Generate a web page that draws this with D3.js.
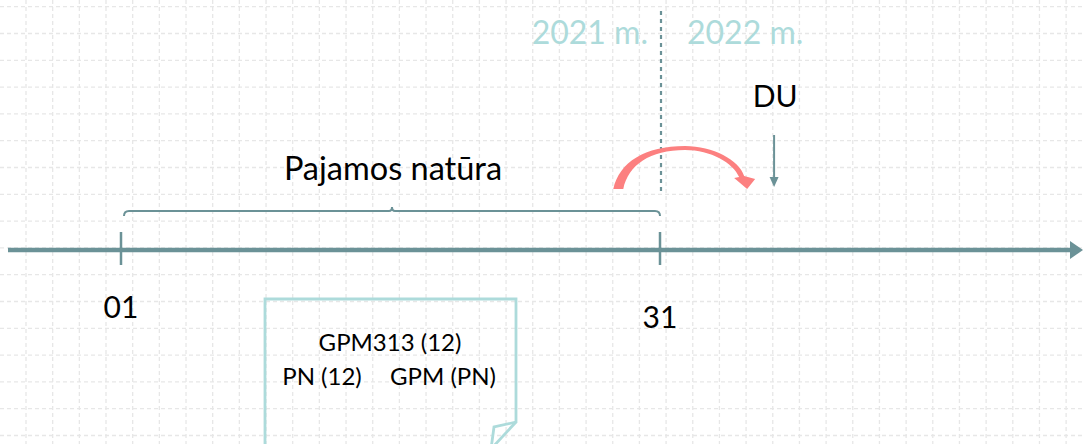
<!DOCTYPE html>
<html><head><meta charset="utf-8">
<script src="https://cdn.jsdelivr.net/npm/d3@7"></script>
<style>html,body{margin:0;padding:0;background:#fff;overflow:hidden}</style>
</head><body><svg id="c" width="1083" height="444"></svg>
<script>
// ---- data ----
const tickValues = [0, 30];            // day positions on the timeline
const tickLabels = ["01", "31"];
const yearLabels = ["2021 m.", "2022 m."];
const yearBoundary = 30;               // end of year
const braceRange = [0, 30];
const braceLabel = "Pajamos natūra";
const eventValue = 36.35;
const eventLabel = "DU";
const carryFrom = 27.4, carryTo = 34.85; // red carry-over arrow
const noteLine1 = ["GPM313 (12)"];
const noteLine2 = ["PN (12)", "GPM (PN)"];

// ---- layout ----
const W = 1083, H = 444, axisY = 250;
const teal = "#6b9297", light = "#addbdb", red = "#fc8080";
const font = "Lato, 'Open Sans', sans-serif";
const svg = d3.select("#c");
const x = d3.scaleLinear().domain([0, 30]).range([121, 660]);

// grid
const grid = svg.append("g");
d3.range(0, 41).forEach(i => {
  const gx = 26 + i * 26.67;
  grid.append("line").attr("x1", gx).attr("x2", gx).attr("y1", 0).attr("y2", H);
});
d3.range(0, 17).forEach(i => {
  const gy = 6.7 + i * 26.8;
  grid.append("line").attr("x1", 0).attr("x2", W).attr("y1", gy).attr("y2", gy);
});
grid.selectAll("line").attr("stroke", "#e7e7e7").attr("stroke-width", 1.3).attr("stroke-dasharray", "4,3");

// year divider
svg.append("line").attr("x1", x(yearBoundary) + 1).attr("x2", x(yearBoundary) + 1)
  .attr("y1", 11).attr("y2", 192).attr("stroke", teal).attr("stroke-width", 2.2)
  .attr("stroke-dasharray", "4,4");

svg.append("text").attr("x", x(yearBoundary) - 12).attr("y", 44).attr("text-anchor", "end")
  .attr("font-family", font).attr("font-size", 32).attr("fill", light).text(yearLabels[0]);
svg.append("text").attr("x", x(yearBoundary) + 27).attr("y", 44).attr("text-anchor", "start")
  .attr("font-family", font).attr("font-size", 32).attr("fill", light).text(yearLabels[1]);

// main axis
svg.append("line").attr("x1", 8).attr("x2", 1072).attr("y1", axisY).attr("y2", axisY)
  .attr("stroke", teal).attr("stroke-width", 4.5);
svg.append("path").attr("d", `M1070,${axisY-9} L1083,${axisY} L1070,${axisY+9} Z`).attr("fill", teal);

// ticks
tickValues.forEach((v, i) => {
  svg.append("line").attr("x1", x(v)).attr("x2", x(v)).attr("y1", axisY - 18).attr("y2", axisY + 15)
    .attr("stroke", teal).attr("stroke-width", 2.5);
  svg.append("text").attr("x", x(v)).attr("y", i === 0 ? 318 : 328).attr("text-anchor", "middle")
    .attr("font-family", font).attr("font-size", 30).attr("fill", "#000").text(tickLabels[i]);
});

// brace
const bx0 = x(braceRange[0]) + 3, bx1 = x(braceRange[1]), bm = (bx0 + bx1) / 2, by = 211;
svg.append("path")
  .attr("d", `M${bx0},${by+5} Q${bx0},${by} ${bx0+5},${by} L${bm-3},${by} Q${bm},${by} ${bm},${by-4} Q${bm},${by} ${bm+3},${by} L${bx1-5},${by} Q${bx1},${by} ${bx1},${by+5}`)
  .attr("fill", "none").attr("stroke", teal).attr("stroke-width", 2);
svg.append("text").attr("x", bm + 1).attr("y", 180).attr("text-anchor", "middle")
  .attr("font-family", font).attr("font-size", 32.5).attr("fill", "#000").text(braceLabel);

// event DU
const ex = x(eventValue);
svg.append("line").attr("x1", ex).attr("x2", ex).attr("y1", 135).attr("y2", 178)
  .attr("stroke", teal).attr("stroke-width", 2);
svg.append("path").attr("d", `M${ex-4.5},177 L${ex},187 L${ex+4.5},177 Z`).attr("fill", teal);
svg.append("text").attr("x", ex + 1).attr("y", 107).attr("text-anchor", "middle")
  .attr("font-family", font).attr("font-size", 30).attr("fill", "#000").text(eventLabel);

// red carry-over arrow
const a0 = x(carryFrom), a1 = x(carryTo), am = x(yearBoundary) + 25;
svg.append("path")
  .attr("d", `M${a0},189 C${a0+6},162 ${am-40},146 ${am},146 C${am+28},146 ${a1-8},160 ${a1-3},176
    L${a1+8},179 L${a1},189 L${a1-13},178 L${a1-8},177
    C${a1-14},163 ${am+26},150 ${am},150 C${am-35},150 ${a0+15},165 ${a0+10},189 Z`)
  .attr("fill", red);

// note box with folded corner
const nx0 = 265, nx1 = 516, ny0 = 299;
svg.append("path")
  .attr("d", `M${nx0},${H+5} L${nx0},${ny0} L${nx1},${ny0} L${nx1},422 L494,427 L491,${H+5}`)
  .attr("fill", "none").attr("stroke", light).attr("stroke-width", 2.8);
svg.append("path").attr("d", `M${nx1},422 L491,${H+5}`).attr("fill", "none").attr("stroke", light).attr("stroke-width", 2.8);
svg.append("text").attr("x", 390).attr("y", 351).attr("text-anchor", "middle")
  .attr("font-family", font).attr("font-size", 24).attr("fill", "#000").text(noteLine1[0]);
svg.append("text").attr("x", 322).attr("y", 385).attr("text-anchor", "middle")
  .attr("font-family", font).attr("font-size", 24).attr("fill", "#000").text(noteLine2[0]);
svg.append("text").attr("x", 443).attr("y", 385).attr("text-anchor", "middle")
  .attr("font-family", font).attr("font-size", 24).attr("fill", "#000").text(noteLine2[1]);
</script></body></html>
